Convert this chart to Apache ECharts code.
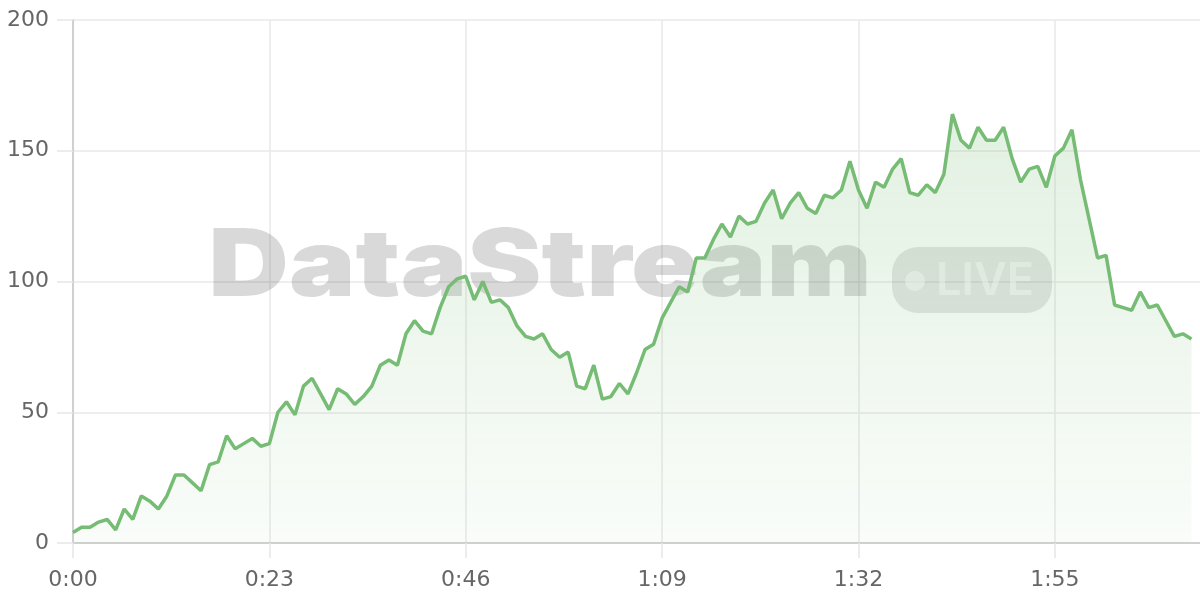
<!DOCTYPE html>
<html><head><meta charset="utf-8">
<script src="https://cdn.jsdelivr.net/npm/echarts@6/dist/echarts.min.js"></script>
<style>html,body{margin:0;padding:0;background:#fff}#c{width:1200px;height:600px}</style>
</head><body><div id="c"></div>
<script>
// Values per second (0:00 .. 2:11)
const values = [4,6,6,8,9,5,13,9,18,16,13,18,26,26,23,20,30,31,41,36,
  38,40,37,38,50,54,49,60,63,57,51,59,57,53,56,60,68,70,68,80,
  85,81,80,90,98,101,102,93,100,92,93,90,83,79,78,80,74,71,73,60,
  59,68,55,56,61,57,65,74,76,86,92,98,96,109,109,116,122,117,125,122,
  123,130,135,124,130,134,128,126,133,132,135,146,135,128,138,136,143,147,134,133,
  137,134,141,164,154,151,159,154,154,159,147,138,143,144,136,148,151,158,139,124,
  109,110,91,90,89,96,90,91,85,79,80,78];
const slotCount = 133; // time slots on the axis (0:00 .. 2:12)
const categories = Array.from({length: slotCount}, (_, i) => Math.floor(i / 60) + ':' + String(i % 60).padStart(2, '0'));
const yTicks = [0, 50, 100, 150, 200];
const labelEvery = 23;
const watermarkText = 'DataStream';
const badgeText = 'LIVE';

const chart = echarts.init(document.getElementById('c'), null, {renderer: 'canvas'});
const lineColor = '#76bc74';
const labelFont = {fontFamily: 'DejaVu Sans', fontSize: 22, color: '#666'};
chart.setOption({
  animation: false,
  grid: {left: 73, right: 0, top: 20, bottom: 57, containLabel: false},
  xAxis: {
    type: 'category', data: categories, boundaryGap: false,
    axisLine: {show: true, lineStyle: {color: '#d0d0d0', width: 2}},
    axisTick: {show: true, interval: labelEvery - 1, length: 15, lineStyle: {color: '#e6e6e6', width: 1.5}},
    axisLabel: Object.assign({interval: labelEvery - 1, margin: 26}, labelFont),
    splitLine: {show: true, interval: labelEvery - 1, lineStyle: {color: '#e8e8e8', width: 1.5}}
  },
  yAxis: {
    type: 'value', min: yTicks[0], max: yTicks[yTicks.length - 1], interval: yTicks[1] - yTicks[0],
    axisLine: {show: true, lineStyle: {color: '#d0d0d0', width: 2}},
    axisTick: {show: true, length: 16, lineStyle: {color: '#e6e6e6', width: 1.5}},
    axisLabel: Object.assign({margin: 24}, labelFont),
    splitLine: {show: true, lineStyle: {color: '#e8e8e8', width: 1.5}}
  },
  graphic: [
    {type: 'text', x: 540, y: 268, scaleX: 1.2, z: 1,
      style: {text: watermarkText, fontSize: 93, fontWeight: 900, fontFamily: 'Inter',
        fill: 'rgba(0,0,0,0.15)', textAlign: 'center', textVerticalAlign: 'middle', align: 'center', verticalAlign: 'middle'}},
    {type: 'rect', z: 1, shape: {x: 892, y: 247, width: 160, height: 66, r: 26},
      style: {fill: 'rgba(0,0,0,0.1)'}},
    {type: 'circle', z: 1, shape: {cx: 915, cy: 281, r: 10}, style: {fill: 'rgba(255,255,255,0.5)'}},
    {type: 'text', x: 936, y: 281, z: 1,
      style: {text: badgeText, fontSize: 45, fontWeight: 600, fontFamily: 'Inter',
        fill: 'rgba(255,255,255,0.5)', textAlign: 'left', textVerticalAlign: 'middle', align: 'left', verticalAlign: 'middle'}}
  ],
  series: [{
    type: 'line', data: values, symbol: 'none', smooth: false, z: 2,
    lineStyle: {color: lineColor, width: 3.5},
    itemStyle: {color: lineColor},
    areaStyle: {color: new echarts.graphic.LinearGradient(0, 0, 0, 1, [
      {offset: 0, color: 'rgba(118,188,116,0.30)'},
      {offset: 1, color: 'rgba(118,188,116,0.06)'}
    ])}
  }]
});
</script></body></html>
